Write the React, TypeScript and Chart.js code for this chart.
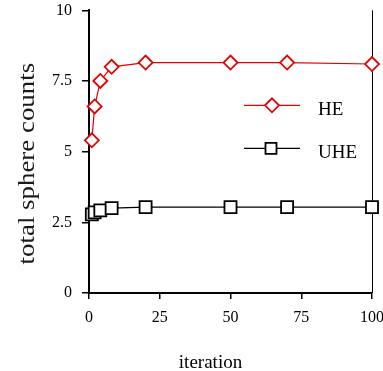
import React, { useEffect, useRef } from 'react';
import { Chart, registerables } from 'chart.js';

Chart.register(...registerables);

const iterations = [1, 2, 4, 8, 20, 50, 70, 100];
const heCounts = [5.4, 6.6, 7.5, 8.0, 8.15, 8.15, 8.15, 8.1];
const uheCounts = [2.78, 2.85, 2.92, 3.0, 3.04, 3.04, 3.04, 3.04];
const xTickLabels = ['0', '25', '50', '75', '100'];
const yTickLabels = ['0', '2.5', '5', '7.5', '10'];
const seriesNames = ['HE', 'UHE'];
const xTitle = 'iteration';
const yTitle = 'total sphere counts';

const RED = 'rgb(228,0,0)';
const BLACK = '#000';
const SERIF = '"Liberation Serif", "Times New Roman", serif';

function drawDiamond(ctx: CanvasRenderingContext2D, cx: number, cy: number, r: number, color: string) {
  ctx.beginPath();
  ctx.moveTo(cx, cy - r);
  ctx.lineTo(cx + r, cy);
  ctx.lineTo(cx, cy + r);
  ctx.lineTo(cx - r, cy);
  ctx.closePath();
  ctx.fillStyle = '#fff';
  ctx.fill();
  ctx.strokeStyle = color;
  ctx.lineWidth = 1.8;
  ctx.stroke();
}

function drawSquare(ctx: CanvasRenderingContext2D, cx: number, cy: number, h: number, color: string) {
  ctx.beginPath();
  ctx.rect(cx - h, cy - h, 2 * h, 2 * h);
  ctx.fillStyle = '#fff';
  ctx.fill();
  ctx.strokeStyle = color;
  ctx.lineWidth = 1.8;
  ctx.stroke();
}

const framePlugin = {
  id: 'frame',
  beforeDatasetsDraw(chart: any) {
    const { ctx, chartArea: a } = chart;
    ctx.save();
    ctx.strokeStyle = BLACK;
    ctx.lineWidth = 1;
    ctx.beginPath();
    ctx.moveTo(a.right + 0.5, a.top);
    ctx.lineTo(a.right + 0.5, a.bottom);
    ctx.stroke();
    ctx.restore();
  },
  afterDraw(chart: any) {
    const { ctx, chartArea: a } = chart;
    ctx.save();
    // axis titles
    ctx.fillStyle = BLACK;
    ctx.font = `19px ${SERIF}`;
    ctx.textAlign = 'center';
    ctx.textBaseline = 'alphabetic';
    ctx.fillText(xTitle, (a.left + a.right) / 2 - 20, chart.height - 3);

    ctx.save();
    ctx.translate(27.5, (a.top + a.bottom) / 2 + 12);
    ctx.rotate(-Math.PI / 2);
    ctx.scale(1.12, 1);
    ctx.font = `24px ${SERIF}`;
    ctx.fillStyle = '#1a1a1a';
    ctx.textBaseline = 'middle';
    ctx.textAlign = 'center';
    ctx.fillText(yTitle, 0, 0);
    ctx.restore();

    // legend
    const rows = [
      { y: a.top + 95, color: RED, kind: 'diamond', label: seriesNames[0] },
      { y: a.top + 138, color: BLACK, kind: 'square', label: seriesNames[1] },
    ];
    rows.forEach((row) => {
      ctx.strokeStyle = row.color;
      ctx.lineWidth = 1.2;
      ctx.beginPath();
      ctx.moveTo(a.left + 155, row.y);
      ctx.lineTo(a.left + 211, row.y);
      ctx.stroke();
      if (row.kind === 'diamond') drawDiamond(ctx, a.left + 183, row.y, 7, row.color);
      else drawSquare(ctx, a.left + 182, row.y, 5.5, row.color);
      ctx.fillStyle = BLACK;
      ctx.font = `19px ${SERIF}`;
      ctx.textAlign = 'left';
      ctx.textBaseline = 'alphabetic';
      ctx.fillText(row.label, a.left + 229, row.y + 10);
    });
    ctx.restore();
  },
};

function zeroPad(s: any) {
  s.paddingLeft = 0;
  s.paddingRight = 0;
  s.paddingTop = 0;
  s.paddingBottom = 0;
}

export default function App() {
  const ref = useRef<HTMLCanvasElement | null>(null);

  useEffect(() => {
    document.body.style.margin = '0';
    const canvas = ref.current;
    if (!canvas) return;
    const chart = new Chart(canvas, {
      type: 'line',
      data: {
        datasets: [
          {
            label: seriesNames[0],
            data: iterations.map((x, i) => ({ x, y: heCounts[i] })),
            borderColor: RED,
            borderWidth: 1.2,
            pointStyle: 'rectRot',
            pointRadius: 7,
            pointBorderWidth: 1.8,
            pointBackgroundColor: '#fff',
            pointBorderColor: RED,
            tension: 0,
            clip: false,
          },
          {
            label: seriesNames[1],
            data: iterations.map((x, i) => ({ x, y: uheCounts[i] })),
            borderColor: BLACK,
            borderWidth: 1.2,
            pointStyle: 'rect',
            pointRadius: 8.5,
            pointBorderWidth: 1.8,
            pointBackgroundColor: '#fff',
            pointBorderColor: BLACK,
            tension: 0,
            clip: false,
          },
        ],
      },
      options: {
        animation: false,
        responsive: false,
        maintainAspectRatio: false,
        layout: { padding: { top: 10, right: 11, left: 0, bottom: 0 } },
        plugins: {
          legend: { display: false },
          tooltip: { enabled: false },
        },
        scales: {
          x: {
            type: 'linear',
            min: 0,
            max: 100,
            ticks: {
              stepSize: 25,
              color: BLACK,
              font: { family: SERIF, size: 16 },
              padding: 9,
              maxRotation: 0,
              callback: (_v: any, i: number) => xTickLabels[i],
            },
            grid: {
              display: true,
              drawOnChartArea: false,
              drawTicks: true,
              tickLength: 6,
              color: BLACK,
              lineWidth: 1.5,
            },
            border: { display: true, color: BLACK, width: 2 },
            afterFit: (s: any) => {
              s.height = 78;
              zeroPad(s);
            },
          },
          y: {
            type: 'linear',
            min: 0,
            max: 10,
            ticks: {
              stepSize: 2.5,
              color: BLACK,
              font: { family: SERIF, size: 16 },
              padding: 10,
              callback: (_v: any, i: number) => yTickLabels[i],
            },
            grid: {
              display: true,
              drawOnChartArea: false,
              drawTicks: true,
              tickLength: 7,
              color: BLACK,
              lineWidth: 1.5,
            },
            border: { display: true, color: BLACK, width: 2 },
            afterFit: (s: any) => {
              s.width = 89;
              zeroPad(s);
            },
          },
        },
      },
      plugins: [framePlugin],
    } as any);
    return () => chart.destroy();
  }, []);

  return (
    <div style={{ width: 383, height: 371 }}>
      <canvas ref={ref} width={383} height={371} style={{ display: 'block' }} />
    </div>
  );
}
